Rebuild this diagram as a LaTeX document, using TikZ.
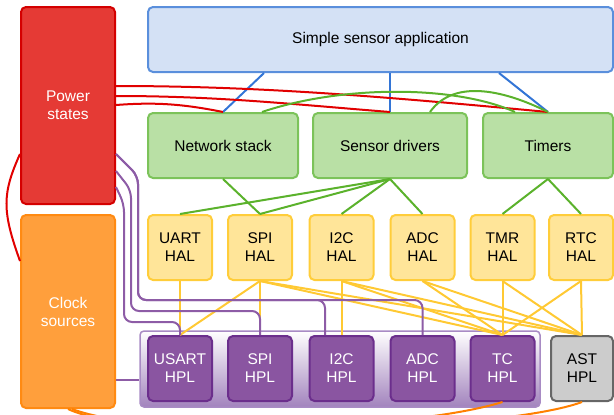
\documentclass[tikz,border=0pt]{standalone}
\usepackage{fontspec}
\setmainfont{Liberation Sans}
\usetikzlibrary{positioning}
\definecolor{pwrfill}{HTML}{E53A35}
\definecolor{pwrdraw}{HTML}{D40000}
\definecolor{clkfill}{HTML}{FF9F3C}
\definecolor{clkdraw}{HTML}{FF8A12}
\definecolor{appfill}{HTML}{D4E1F5}
\definecolor{appdraw}{HTML}{5A8FDC}
\definecolor{stkfill}{HTML}{B9E0A5}
\definecolor{stkdraw}{HTML}{7CC35A}
\definecolor{halfill}{HTML}{FFE599}
\definecolor{haldraw}{HTML}{FFCD3A}
\definecolor{hplfill}{HTML}{8A55A1}
\definecolor{hpldraw}{HTML}{6B2E8C}
\definecolor{astfill}{HTML}{CCCCCC}
\definecolor{astdraw}{HTML}{666666}
\definecolor{contdraw}{HTML}{A88BC4}
\definecolor{contbot}{HTML}{A283BD}
\definecolor{blueln}{HTML}{3375D6}
\definecolor{redln}{HTML}{E10000}
\definecolor{greenln}{HTML}{5BB22C}
\definecolor{yellowln}{HTML}{FFC933}
\definecolor{purpleln}{HTML}{8D5CA6}
\definecolor{orangeln}{HTML}{FF8000}
\tikzset{blk/.style={rectangle,rounded corners=5pt,line width=2pt,inner sep=0pt,align=center,font=\fontsize{15.5}{18}\selectfont},
  pwrbox/.style={blk,fill=pwrfill,draw=pwrdraw,text=white,minimum width=94pt,minimum height=197pt},
  clkbox/.style={blk,fill=clkfill,draw=clkdraw,text=white,minimum width=94pt,minimum height=193pt},
  appbox/.style={blk,fill=appfill,draw=appdraw,minimum width=465pt,minimum height=65pt},
  stkbox/.style={blk,fill=stkfill,draw=stkdraw,minimum height=65pt},
  halbox/.style={blk,fill=halfill,draw=haldraw,minimum width=64pt,minimum height=65pt},
  hplbox/.style={blk,fill=hplfill,draw=hpldraw,text=white,minimum width=64pt,minimum height=65pt},
  astbox/.style={blk,fill=astfill,draw=astdraw,minimum width=62pt,minimum height=65pt},
  contbox/.style={rectangle,rounded corners=4pt,line width=1.5pt,draw=contdraw,top color=white,bottom color=contbot,minimum width=400pt,minimum height=76pt},
  appln/.style={blueln,line width=2pt},
  pwrln/.style={redln,line width=2pt},
  stkln/.style={greenln,line width=2pt},
  halln/.style={yellowln,line width=2pt},
  hplln/.style={purpleln,line width=2pt,rounded corners=8pt},
  clkln/.style={orangeln,line width=2pt}}
\begin{document}
\begin{tikzpicture}[x=1pt,y=-1pt]
\useasboundingbox (0,0) rectangle (614,415);
% hardware layer
\node (hpls) [contbox] at (340,369) {};
\node (usarthpl) [hplbox] at (180,368.5) {USART\\HPL};
\node (spihpl) [hplbox] at (260,368.5) {SPI\\HPL};
\node (i2chpl) [hplbox] at (341.5,368.5) {I2C\\HPL};
\node (adchpl) [hplbox] at (422.5,368.5) {ADC\\HPL};
\node (tchpl) [hplbox] at (502.5,368.5) {TC\\HPL};
\node (asthpl) [astbox] at (582,368.5) {AST\\HPL};
% HAL
\node (uarthal) [halbox] at (180,247.5) {UART\\HAL};
\node (spihal) [halbox] at (260,247.5) {SPI\\HAL};
\node (i2chal) [halbox] at (341.5,247.5) {I2C\\HAL};
\node (adchal) [halbox] at (422.5,247.5) {ADC\\HAL};
\node (tmrhal) [halbox] at (502.5,247.5) {TMR\\HAL};
\node (rtchal) [halbox] at (581,247.5) {RTC\\HAL};
% upper layers
\node (app) [appbox] at (380.5,39.5) {Simple sensor application};
\node (net) [stkbox,minimum width=150pt] at (223,145.5) {Network stack};
\node (drv) [stkbox,minimum width=154pt] at (390,145.5) {Sensor drivers};
\node (tim) [stkbox,minimum width=130pt] at (548,145.5) {Timers};
\node (pow) [pwrbox] at (68,105.5) {Power\\states};
\node (clk) [clkbox] at (68,311.5) {Clock\\sources};
% app
\draw [appln] ([xshift=117pt]app.south west) -- (net.north);
\draw [appln] (app.south -| drv.north) -- (drv.north);
\draw [appln] ([xshift=352pt]app.south west) -- (tim.north);
% power
\draw [pwrln] ([yshift=-80pt]pow.north east) .. controls +(150,0) and +(-150,-14) .. (tim.north);
\draw [pwrln] ([yshift=-90pt]pow.north east) .. controls +(100,0) and +(-100,-8) .. (drv.north);
\draw [pwrln] ([yshift=-99pt]pow.north east) .. controls +(40,-3) and +(-40,-8) .. (net.north);
\draw [pwrln] ([yshift=-148pt]pow.north west) .. controls +(-18,40) and +(-18,-50) .. ([yshift=-47pt]clk.north west);
% stacks
\draw [stkln] ([xshift=39pt]net.north) .. controls +(80,-27) and +(-60,-27) .. ([xshift=-33pt]tim.north);
\draw [stkln] ([xshift=40pt]drv.north) .. controls +(25,-35) and +(-40,-20) .. (tim.north);
\path (net.south) edge [stkln] (spihal.north);
\path (drv.south) edge [stkln] (uarthal.north)
                  edge [stkln] (spihal.north)
                  edge [stkln] (i2chal.north)
                  edge [stkln] (adchal.north);
\path (tim.south) edge [stkln] (tmrhal.north)
                  edge [stkln] (rtchal.north);
% hal
\path (uarthal.south) edge [halln] (usarthpl.north);
\path (spihal.south) edge [halln] (usarthpl.north)
                     edge [halln] (spihpl.north)
                     edge [halln] (tchpl.north)
                     edge [halln] (asthpl.north);
\path (i2chal.south) edge [halln] (i2chpl.north)
                     edge [halln] (tchpl.north)
                     edge [halln] (asthpl.north);
\path (adchal.south) edge [halln] (tchpl.north)
                     edge [halln] (asthpl.north);
\path (tmrhal.south) edge [halln] (tchpl.north)
                     edge [halln] (asthpl.north);
\path (rtchal.south) edge [halln] (tchpl.north)
                     edge [halln] (asthpl.north);
% power to hpl
\draw [hplln] ([yshift=-148pt]pow.north east) -- (138,176) -- (138,300) -- (325,300) -- ([xshift=-16.5pt]i2chpl.north);
\draw [hplln] ([yshift=-148pt]pow.north east) -- (138,176) -- (138,300) -- (422.5,300) -- (adchpl.north);
\draw [hplln] ([yshift=-165pt]pow.north east) -- (131,190) -- (131,311) -- (260,311) -- (spihpl.north);
\draw [hplln] ([yshift=-181pt]pow.north east) -- (124,204) -- (124,322) -- (180,322) -- (usarthpl.north);
\draw [hplln] ([yshift=-68.5pt]clk.east) -- ([yshift=-11pt]hpls.west);
% clocks
\begin{scope}
\clip (0,0) rectangle (614,415);
\draw [clkln] ([xshift=4pt]clk.south) .. controls +(80,30) and +(-90,28) .. (tchpl.south);
\draw [clkln] (clk.south) .. controls +(70,34) and +(-80,30) .. (asthpl.south);
\end{scope}
\end{tikzpicture}
\end{document}
